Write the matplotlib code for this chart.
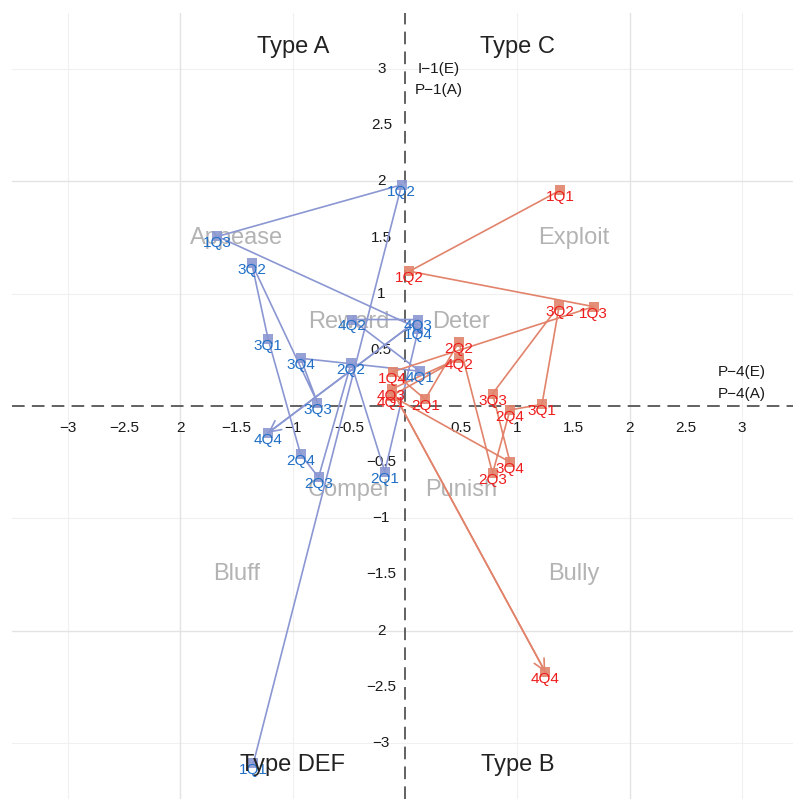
import numpy as np
import matplotlib.pyplot as plt

plt.rcParams['font.family'] = ['Liberation Sans', 'DejaVu Sans']

# quarters, in path order
quarters = ['1Q1', '1Q2', '1Q3', '1Q4', '2Q1', '2Q2', '2Q3', '2Q4',
            '3Q1', '3Q2', '3Q3', '3Q4', '4Q1', '4Q2', '4Q3', '4Q4']

blue_x = [-1.35, -0.03, -1.67, 0.12, -0.18, -0.48, -0.77, -0.93,
          -1.22, -1.365, -0.78, -0.93, 0.13, -0.475, 0.12, -1.22]
blue_y = [-3.18, 1.97, 1.51, 0.69, -0.585, 0.38, -0.635, -0.43,
          0.60, 1.27, 0.03, 0.425, 0.31, 0.77, 0.77, -0.24]

red_x = [1.38, 0.04, 1.68, -0.11, 0.18, 0.48, 0.78, 0.935,
         1.22, 1.375, 0.78, 0.935, -0.12, 0.48, -0.12, 1.25]
red_y = [1.92, 1.20, 0.885, 0.305, 0.06, 0.57, -0.60, -0.035,
         0.015, 0.90, 0.11, -0.50, 0.09, 0.425, 0.15, -2.37]

zone_names = ['Appease', 'Exploit', 'Reward', 'Deter', 'Compel', 'Punish', 'Bluff', 'Bully']
zone_x = [-1.5, 1.5, -0.5, 0.5, -0.5, 0.5, -1.5, 1.5]
zone_y = [1.5, 1.5, 0.75, 0.75, -0.75, -0.75, -1.5, -1.5]

type_names = ['Type A', 'Type C', 'Type DEF', 'Type B']
type_x = [-1, 1, -1, 1]
type_y = [3.2, 3.2, -3.2, -3.2]

tick_vals = [-3, -2.5, -2, -1.5, -1, -0.5, 0.5, 1, 1.5, 2, 2.5, 3]
tick_text = ['\u22123', '\u22122.5', '2', '\u22121.5', '\u22121', '\u22120.5',
             '0.5', '1', '1.5', '2', '2.5', '3']

BLUE_PT, BLUE_TXT = '#8b97d2', '#1f6fc6'
RED_PT, RED_TXT = '#e2836b', '#ee1c1c'

fig = plt.figure(figsize=(7.93, 8.02), dpi=100)
ax = fig.add_axes([12 / 793, 3 / 802, 786 / 793, 786 / 802])
ax.set_xlim(-3.5, 3.5)
ax.set_ylim(-3.5, 3.5)
ax.axis('off')

# grid: major at +-2, minor at +-1, +-3
for v in [-3, -1, 1, 3]:
    ax.axvline(v, color='#f0f0f0', lw=0.8, zorder=0)
    ax.axhline(v, color='#f0f0f0', lw=0.8, zorder=0)
for v in [-2, 2]:
    ax.axvline(v, color='#e3e3e3', lw=1.0, zorder=0)
    ax.axhline(v, color='#e3e3e3', lw=1.0, zorder=0)

ax.axhline(0, color='#555555', lw=1.3, ls=(0, (7, 4)), zorder=1)
ax.axvline(0, color='#555555', lw=1.3, ls=(0, (7, 4)), zorder=1)

# tick labels drawn inside the panel
for v, t in zip(tick_vals, tick_text):
    ax.text(v, -0.2, t, ha='center', va='center', fontsize=11, color='#1a1a1a', zorder=2)
    ax.text(-0.21, v, t, ha='center', va='center', fontsize=11, color='#1a1a1a', zorder=2)

for n, x, y in zip(zone_names, zone_x, zone_y):
    ax.text(x, y, n, ha='center', va='center', fontsize=17, color='#b3b3b3', zorder=2)
for n, x, y in zip(type_names, type_x, type_y):
    ax.text(x, y, n, ha='center', va='center', fontsize=17, color='#222222', zorder=6)

ax.text(0.3, 3.0, 'I\u22121(E)', ha='center', va='center', fontsize=11, color='#1a1a1a')
ax.text(0.3, 2.81, 'P\u22121(A)', ha='center', va='center', fontsize=11, color='#1a1a1a')
ax.text(3.0, 0.3, 'P\u22124(E)', ha='center', va='center', fontsize=11, color='#1a1a1a')
ax.text(3.0, 0.11, 'P\u22124(A)', ha='center', va='center', fontsize=11, color='#1a1a1a')

for xs, ys, cp, ct in [(blue_x, blue_y, BLUE_PT, BLUE_TXT), (red_x, red_y, RED_PT, RED_TXT)]:
    ax.plot(xs, ys, color=cp, lw=1.2, zorder=3)
    ax.annotate('', xy=(xs[-1], ys[-1]), xytext=(xs[-2], ys[-2]),
                arrowprops=dict(arrowstyle='->', color=cp, lw=1.2,
                                shrinkA=0, shrinkB=0, mutation_scale=20),
                zorder=3)
    ax.scatter(xs, ys, marker='s', s=60, color=cp, alpha=0.9, lw=0, zorder=4)
    for q, x, y in zip(quarters, xs, ys):
        ax.annotate(q, (x, y), xytext=(0, -5), textcoords='offset points',
                    ha='center', va='center', fontsize=11, color=ct, zorder=5)

fig.savefig('out.png', dpi=100)
